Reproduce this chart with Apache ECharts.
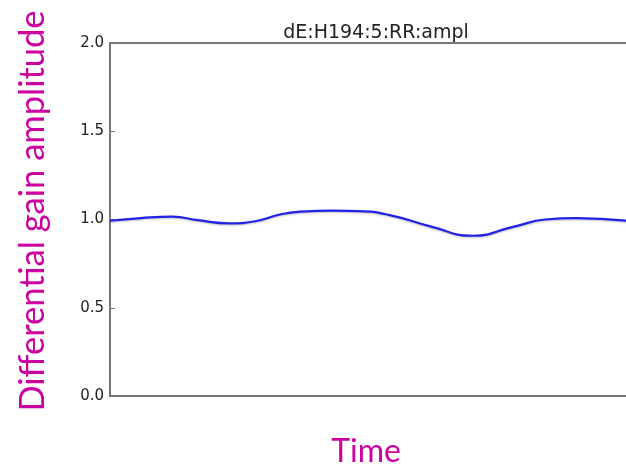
<!DOCTYPE html>
<html>
<head>
<meta charset="utf-8">
<script src="https://cdn.jsdelivr.net/npm/echarts@6/dist/echarts.min.js"></script>
<style>
  html, body { margin: 0; padding: 0; background: #fff; }
  #chart { width: 626px; height: 468px; }
</style>
</head>
<body>
<div id="chart"></div>
<script>
// Time samples (arbitrary units across the run) and measured gain amplitude
const timePoints = [0, 6, 12, 17, 23, 28, 33, 37, 43, 48, 54, 62, 70, 78, 84, 90, 100];
const gainAmplitude = [0.993, 1.008, 1.016, 0.996, 0.978, 0.990, 1.030, 1.045, 1.050, 1.048, 1.025, 0.960, 0.908, 0.960, 1.000, 1.008, 0.992];
const yTicks = [0.0, 0.5, 1.0, 1.5, 2.0];

const titleText = 'dE:H194:5:RR:ampl';
const xTitle = 'Time';
const yTitle = 'Differential gain amplitude';

const accent = '#cc00a0';
const axisGray = '#777777';

const chart = echarts.init(document.getElementById('chart'), null, { renderer: 'canvas' });

chart.setOption({
  animation: false,
  backgroundColor: '#ffffff',
  title: {
    text: titleText,
    left: 371,
    top: 19,
    textAlign: 'center',
    textStyle: { fontFamily: 'DejaVu Sans', fontSize: 19, fontWeight: 'normal', color: '#222' }
  },
  grid: {
    left: 110, top: 43, right: -2, bottom: 72,
    outerBoundsMode: 'none',
    containLabel: false,
    show: true, borderColor: axisGray, borderWidth: 2, backgroundColor: 'transparent'
  },
  // vertical axis title, placed beside the value axis
  graphic: [{
    type: 'text',
    x: 33,
    y: 211,
    rotation: Math.PI / 2,
    style: {
      text: yTitle,
      fontFamily: 'Lato', fontSize: 34.5, fill: accent,
      align: 'center', verticalAlign: 'middle'
    }
  }],
  xAxis: {
    type: 'value',
    min: 0, max: 100,
    name: xTitle,
    nameLocation: 'middle',
    nameGap: 40,
    nameTextStyle: { fontFamily: 'Lato', fontSize: 32, color: accent, padding: [0, 6, 0, 0] },
    axisLine: { show: true, lineStyle: { color: axisGray, width: 2 } },
    axisTick: { show: false },
    axisLabel: { show: false },
    splitLine: { show: false }
  },
  yAxis: {
    type: 'value',
    min: yTicks[0], max: yTicks[yTicks.length - 1], interval: 0.5,
    axisLine: { show: true, lineStyle: { color: axisGray, width: 2 } },
    axisTick: { show: true, inside: true, length: 5, lineStyle: { color: axisGray, width: 1 } },
    axisLabel: {
      margin: 6,
      fontFamily: 'DejaVu Sans', fontSize: 15, color: '#222',
      formatter: v => v.toFixed(1)
    },
    splitLine: { show: false }
  },
  series: [{
    type: 'line',
    data: timePoints.map((t, i) => [t, gainAmplitude[i]]),
    smooth: 0.5,
    showSymbol: false,
    lineStyle: {
      color: '#2222e6', width: 2.2,
      shadowColor: 'rgba(0,0,0,0.25)', shadowBlur: 2, shadowOffsetY: 1
    }
  }]
});
</script>
</body>
</html>
